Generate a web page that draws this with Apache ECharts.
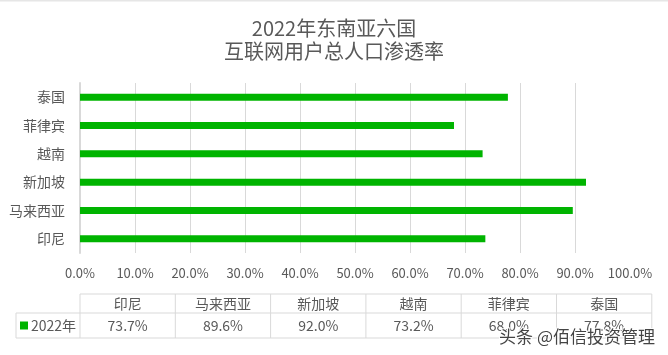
<!DOCTYPE html>
<html>
<head>
<meta charset="utf-8">
<script src="https://cdn.jsdelivr.net/npm/echarts@6/dist/echarts.min.js"></script>
<style>
  html, body { margin: 0; padding: 0; background: #fff; }
  #chart { width: 668px; height: 355px; }
</style>
</head>
<body>
<div id="chart"></div>
<script>
// categories bottom -> top, same order as the table columns
const countries = ['印尼', '马来西亚', '新加坡', '越南', '菲律宾', '泰国'];
const rate2022 = [73.7, 89.6, 92.0, 73.2, 68.0, 77.8];
const seriesName = '2022年';
const xTicks = [0, 10, 20, 30, 40, 50, 60, 70, 80, 90, 100];

const font = '"Noto Sans CJK SC", "Noto Sans", sans-serif';
const textColor = '#595959';
const lineColor = '#d9d9d9';
const green = '#00b400';

// data table under the chart
const tblLeft = 16, colStart = 80, colW = 95.3;
const rowTop = 294, headH = 19, rowH = 25;
const table = [];
const tblRight = colStart + colW * countries.length;
// horizontal lines
table.push({ type: 'line', shape: { x1: colStart, y1: rowTop, x2: tblRight, y2: rowTop }, style: { stroke: lineColor, lineWidth: 1 } });
table.push({ type: 'line', shape: { x1: tblLeft, y1: rowTop + headH, x2: tblRight, y2: rowTop + headH }, style: { stroke: lineColor, lineWidth: 1 } });
table.push({ type: 'line', shape: { x1: tblLeft, y1: rowTop + headH + rowH, x2: tblRight, y2: rowTop + headH + rowH }, style: { stroke: lineColor, lineWidth: 1 } });
table.push({ type: 'line', shape: { x1: tblLeft, y1: rowTop + headH, x2: tblLeft, y2: rowTop + headH + rowH }, style: { stroke: lineColor, lineWidth: 1 } });
for (let i = 0; i <= countries.length; i++) {
  const x = colStart + colW * i;
  table.push({ type: 'line', shape: { x1: x, y1: rowTop, x2: x, y2: rowTop + headH + rowH }, style: { stroke: lineColor, lineWidth: 1 } });
}
countries.forEach((c, i) => {
  const cx = colStart + colW * (i + 0.5);
  table.push({ type: 'text', x: cx, y: rowTop + headH / 2, style: { text: c, font: '14px ' + font, fill: textColor, align: 'center', verticalAlign: 'middle' } });
  table.push({ type: 'text', x: cx, y: rowTop + headH + rowH / 2, style: { text: rate2022[i].toFixed(1) + '%', font: '14px ' + font, fill: textColor, align: 'center', verticalAlign: 'middle' } });
});
table.push({ type: 'rect', shape: { x: 20, y: rowTop + headH + rowH / 2 - 4, width: 8, height: 8 }, style: { fill: green } });
table.push({ type: 'text', x: 31, y: rowTop + headH + rowH / 2, style: { text: seriesName, font: '14px ' + font, fill: textColor, align: 'left', verticalAlign: 'middle' } });

const chart = echarts.init(document.getElementById('chart'));
chart.setOption({
  backgroundColor: '#fff',
  animation: false,
  title: {
    text: '2022年东南亚六国\n互联网用户总人口渗透率',
    left: 'center',
    top: 12,
    textStyle: { fontFamily: font, fontSize: 20, fontWeight: 'normal', color: textColor, lineHeight: 23 }
  },
  grid: { left: 80, right: 38, top: 83, bottom: 102, containLabel: false },
  xAxis: {
    type: 'value',
    min: 0, max: 100, interval: 10,
    axisLine: { show: false },
    axisTick: { show: false },
    splitLine: { show: true, showMaxLine: false, lineStyle: { color: lineColor, width: 1 } },
    axisLabel: {
      margin: 14,
      fontFamily: font, fontSize: 13, color: textColor,
      formatter: v => v.toFixed(1) + '%'
    }
  },
  yAxis: {
    type: 'category',
    data: countries,
    axisLine: { show: true, lineStyle: { color: lineColor, width: 2 } },
    axisTick: { show: false },
    axisLabel: { margin: 15, fontFamily: font, fontSize: 14, color: textColor }
  },
  series: [{
    name: seriesName,
    type: 'bar',
    data: rate2022,
    barWidth: 7,
    itemStyle: { color: green }
  }],
  graphic: table.concat([
    { type: 'line', shape: { x1: 0, y1: 0.5, x2: 668, y2: 0.5 }, style: { stroke: '#e6e6e6', lineWidth: 2 } },
    { type: 'text', right: 12, top: 327, z: 100, style: { text: '头条 @佰信投资管理', font: '17px ' + font, fill: '#444', stroke: '#fff', lineWidth: 2 } }
  ])
});
</script>
</body>
</html>
